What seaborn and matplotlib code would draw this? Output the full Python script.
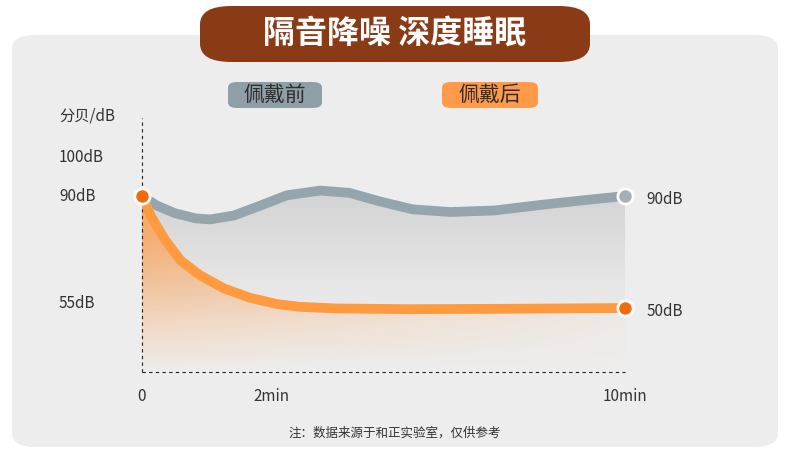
import numpy as np
import matplotlib
matplotlib.use("Agg")
import matplotlib.pyplot as plt
from matplotlib.patches import FancyBboxPatch, Polygon
import seaborn as sns
import pandas as pd

sns.set_theme(style="white")
plt.rcParams['font.family'] = ['Noto Sans CJK SC', 'DejaVu Sans']

title = "隔音降噪 深度睡眠"
series_names = ["佩戴前", "佩戴后"]
before_x = [0, 0.3, 0.68, 1.1, 1.41, 1.9, 2.44, 3.0, 3.69, 4.3, 4.93, 5.6, 6.38, 7.3, 8.24, 9.2, 10]
before_y = [90, 87.6, 85.6, 84.3, 84.0, 85.0, 87.5, 90.2, 91.4, 90.8, 88.6, 86.6, 85.9, 86.3, 87.7, 89.0, 90]
after_x = [0, 0.2, 0.48, 0.8, 1.2, 1.7, 2.24, 2.8, 3.27, 4.0, 5.5, 7.5, 10]
after_y = [90, 84.5, 78.7, 73.5, 69.7, 66.3, 63.9, 62.3, 61.6, 61.2, 61.0, 61.1, 61.3]
ytick_vals = [100, 90, 62.5]
ytick_labels = ["100dB", "90dB", "55dB"]
xtick_vals = [0, 2.69, 10]
xtick_labels = ["0", "2min", "10min"]
end_labels = ["90dB", "50dB"]
note = "注：数据来源于和正实验室，仅供参考"

W, H = 790, 457
fig = plt.figure(figsize=(7.9, 4.57), dpi=100)
fig.patch.set_facecolor("white")
def fx(p): return p / W
def fy(p): return 1 - p / H

fig.patches.append(FancyBboxPatch((fx(12), fy(447)), fx(766), (447 - 35) / H,
    boxstyle="round,pad=0,rounding_size=0.03", transform=fig.transFigure,
    facecolor="#EDEDED", edgecolor="none", zorder=0))
fig.patches.append(FancyBboxPatch((fx(200), fy(62)), fx(390), 56 / H,
    boxstyle="round,pad=0,rounding_size=0.04", transform=fig.transFigure,
    facecolor="#8B3A16", edgecolor="none", zorder=1))
fig.text(fx(395), fy(34), title, color="white", fontsize=23, fontweight="bold",
         ha="center", va="center")

ax = fig.add_axes([fx(142), fy(372), (625 - 142) / W, (372 - 118) / H])
ax.set_zorder(5)
ax.set_facecolor("none")
ax.set_xlim(0, 10)
ax.set_ylim(44.9, 110)
for s in ax.spines.values():
    s.set_visible(False)
ax.set_xticks([]); ax.set_yticks([])

def grad_fill(xs, ys, rgb, alpha_fn):
    poly = Polygon(list(zip(xs, ys)) + [(10, 44.9), (0, 44.9)], closed=True,
                   facecolor="none", edgecolor="none")
    ax.add_patch(poly)
    ny, nx = 200, 200
    yy, xx = np.mgrid[1:0:ny * 1j, 0:1:nx * 1j]
    img = np.zeros((ny, nx, 4))
    img[..., :3] = rgb
    img[..., 3] = alpha_fn(xx, yy)
    im = ax.imshow(img, extent=[0, 10, 44.9, 110], aspect="auto", zorder=1, origin="upper")
    im.set_clip_path(poly)

grad_fill(before_x, before_y, (0.78, 0.78, 0.78), lambda x, y: np.clip((y - 0.2) * 1.3, 0, 0.8))
grad_fill(after_x, after_y, (1.0, 0.62, 0.30), lambda x, y: np.clip(y * 1.4 * (1 - 0.85 * x), 0, 0.75))

df_b = pd.DataFrame({"t": before_x, "v": before_y})
df_a = pd.DataFrame({"t": after_x, "v": after_y})
sns.lineplot(data=df_b, x="t", y="v", ax=ax, color="#95A5AD", linewidth=7, zorder=3, sort=False)
sns.lineplot(data=df_a, x="t", y="v", ax=ax, color="#FF9A40", linewidth=7, zorder=4, sort=False)
ax.set_xlabel(""); ax.set_ylabel("")
ax.set_xticks([]); ax.set_yticks([])
ax.set_xlim(0, 10); ax.set_ylim(44.9, 110)
ax.plot([before_x[-1]], [before_y[-1]], "o", ms=11, color="#A4B0B6", mec="white", mew=2, zorder=5, clip_on=False)
ax.plot([after_x[-1]], [after_y[-1]], "o", ms=11, color="#F26B0F", mec="white", mew=2, zorder=5, clip_on=False)
ax.plot([after_x[0]], [after_y[0]], "o", ms=11, color="#F26B0F", mec="white", mew=2, zorder=6, clip_on=False)

ax.plot([0, 0], [44.9, 110], ls=(0, (3, 3)), color="#222222", lw=0.8, clip_on=False, zorder=2)
ax.plot([0, 10], [44.9, 44.9], ls=(0, (3, 3)), color="#222222", lw=0.8, clip_on=False, zorder=2)

for v, l in zip(ytick_vals, ytick_labels):
    ax.text(-1.72, v, l, fontsize=11, color="#333333", va="center", ha="left", clip_on=False)
ax.text(-1.72, 110.5, "分贝/dB", fontsize=11, color="#333333", va="center", ha="left")
for v, l in zip(xtick_vals, xtick_labels):
    ax.text(v, 38.5, l, fontsize=11, color="#333333", va="center", ha="center")
ax.text(10.45, before_y[-1] - 1, end_labels[0], fontsize=11, color="#333333", va="center", ha="left")
ax.text(10.45, after_y[-1] - 1, end_labels[1], fontsize=11, color="#333333", va="center", ha="left")

for (x0, x1, c), name in zip([(228, 322, "#8E9FA7"), (442, 538, "#FF9A4A")], series_names):
    fig.patches.append(FancyBboxPatch((fx(x0), fy(108)), fx(x1 - x0), 26 / H,
        boxstyle="round,pad=0,rounding_size=0.012", transform=fig.transFigure,
        facecolor=c, edgecolor="none", zorder=1))
    fig.text(fx((x0 + x1) / 2), fy(95), name, fontsize=15, color="#2E2E2E", ha="center", va="center")

fig.text(fx(395), fy(433), note, fontsize=9, color="#333333", ha="center", va="center")
fig.savefig("out.png", dpi=100)
